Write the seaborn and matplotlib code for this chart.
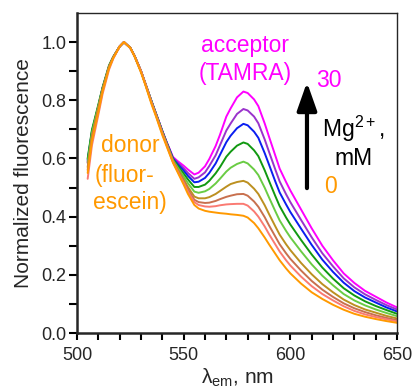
import numpy as np
import pandas as pd
import matplotlib
matplotlib.use("Agg")
import matplotlib.pyplot as plt
import seaborn as sns

# emission wavelength (nm)
wl = [505, 507, 510, 512, 515, 517, 520, 522, 525, 527, 530, 532, 535, 537, 540,
      542, 545, 547, 550, 552, 555, 557, 560, 562, 565, 567, 570, 572, 575, 578,
      580, 583, 585, 588, 590, 593, 595, 598, 600, 605, 610, 615, 620, 625, 630,
      635, 640, 645, 650]

# normalized fluorescence, one list per Mg2+ level (0 mM -> 30 mM)
mg_0 = [.55, .66, .76, .83, .91, .945, .985, 1.0, .98, .95, .895, .853, .785, .745,
        .68, .642, .585, .555, .51, .478, .44, .428, .42, .417, .414, .412, .41,
        .408, .406, .403, .397, .378, .36, .328, .305, .272, .25, .222, .205, .17,
        .14, .117, .097, .08, .066, .056, .048, .041, .035]
mg_1 = [.53, .645, .75, .822, .905, .943, .985, 1.0, .98, .951, .9, .857, .79, .748,
        .685, .646, .587, .558, .516, .486, .45, .44, .435, .434, .436, .439, .442,
        .443, .444, .444, .438, .418, .40, .366, .34, .304, .28, .25, .232, .194,
        .161, .134, .112, .092, .076, .064, .055, .047, .04]
mg_2 = [.56, .67, .77, .835, .915, .948, .985, 1.0, .98, .952, .9, .857, .79, .75,
        .687, .648, .589, .561, .521, .493, .458, .45, .447, .448, .454, .46, .468,
        .472, .477, .478, .472, .452, .434, .398, .37, .331, .305, .274, .255, .215,
        .179, .149, .124, .102, .085, .072, .061, .052, .044]
mg_3 = [.57, .677, .775, .838, .915, .948, .985, 1.0, .98, .952, .9, .858, .792, .751,
        .689, .65, .591, .565, .528, .502, .469, .463, .463, .467, .478, .488, .503,
        .512, .519, .523, .517, .496, .478, .439, .409, .366, .338, .305, .285, .241,
        .202, .168, .14, .115, .096, .081, .07, .059, .05]
mg_4 = [.585, .688, .78, .84, .915, .948, .985, 1.0, .98, .952, .9, .858, .793, .752,
        .69, .652, .594, .571, .538, .515, .486, .482, .487, .495, .514, .53, .555,
        .568, .581, .589, .583, .562, .543, .499, .466, .418, .387, .351, .329, .281,
        .236, .197, .164, .134, .112, .095, .081, .069, .058]
mg_5 = [.60, .698, .785, .845, .92, .95, .985, 1.0, .98, .952, .9, .858, .795, .754,
        .693, .654, .597, .577, .548, .528, .502, .502, .51, .523, .549, .57, .606,
        .623, .644, .655, .65, .628, .608, .559, .523, .47, .436, .397, .373, .32,
        .27, .225, .187, .154, .129, .109, .093, .079, .066]
mg_6 = [.595, .693, .78, .842, .915, .948, .985, 1.0, .98, .952, .9, .858, .795, .754,
        .693, .655, .60, .582, .558, .54, .518, .52, .533, .55, .583, .612, .656,
        .678, .704, .719, .714, .692, .671, .618, .579, .52, .483, .442, .416, .359,
        .303, .252, .21, .173, .144, .122, .105, .088, .074]
mg_7 = [.59, .69, .78, .842, .915, .948, .985, 1.0, .98, .952, .9, .858, .795, .755,
        .694, .656, .602, .587, .566, .55, .53, .535, .552, .574, .611, .645, .696,
        .72, .753, .77, .765, .744, .721, .665, .623, .561, .521, .477, .45, .389,
        .329, .274, .229, .188, .157, .133, .114, .096, .081]
mg_30 = [.585, .685, .775, .84, .915, .948, .985, 1.0, .98, .952, .9, .858, .795, .755,
         .695, .657, .605, .592, .575, .562, .545, .551, .573, .598, .643, .681, .744,
         .772, .81, .83, .825, .803, .78, .72, .675, .609, .565, .519, .49, .425,
         .36, .30, .25, .205, .172, .145, .125, .105, .088]

levels = ["0", "l1", "l2", "l3", "l4", "l5", "l6", "l7", "30"]
series = [mg_0, mg_1, mg_2, mg_3, mg_4, mg_5, mg_6, mg_7, mg_30]
colors = ["#FF9900", "#FA7A72", "#C8704E", "#BC9020", "#6ACC44",
          "#119911", "#0A1EF0", "#9A33CC", "#FF00FF"]

df = pd.concat([pd.DataFrame({"wl": wl, "fl": s, "mg": lv})
                for lv, s in zip(levels, series)], ignore_index=True)

sns.set_style("ticks")
plt.rcParams["font.family"] = ["Liberation Sans", "DejaVu Sans"]
plt.rcParams["mathtext.fontset"] = "custom"
plt.rcParams["mathtext.rm"] = "Liberation Sans"
plt.rcParams["mathtext.it"] = "Liberation Sans:italic"

fig = plt.figure(figsize=(4.12, 3.92), dpi=100)
ax = fig.add_axes([77 / 412, 59 / 392, 320 / 412, 320 / 392])

# draw high Mg first so the 0 mM curve ends up on top
sns.lineplot(data=df, x="wl", y="fl", hue="mg", hue_order=levels[::-1],
             palette=dict(zip(levels, colors)), lw=1.4, legend=False, ax=ax)

ax.set_xlim(500, 650)
ax.set_ylim(0, 1.1)
ax.set_xticks([500, 550, 600, 650])
ax.set_xticks(np.arange(500, 651, 10), minor=True)
ax.set_yticks([0, 0.2, 0.4, 0.6, 0.8, 1.0])
ax.set_yticks(np.arange(0, 1.05, 0.1), minor=True)
ax.set_yticklabels(["0.0", "0.2", "0.4", "0.6", "0.8", "1.0"])
ax.tick_params(axis="both", which="both", direction="out", width=1.5,
               color="black", labelsize=13)
ax.tick_params(axis="x", which="both", length=5, pad=5)
ax.tick_params(axis="y", which="both", length=6, pad=1.5)

for side in ["left", "bottom"]:
    ax.spines[side].set_linewidth(1.8)
for side in ["top", "right"]:
    ax.spines[side].set_linewidth(1.0)

ax.set_ylabel("Normalized fluorescence", fontsize=15, labelpad=6)
ax.set_xlabel(r"λ$_{\mathrm{em}}$, nm", fontsize=15, labelpad=2)

# annotations
ax.text(578.7, 0.99, "acceptor", color="#FF00FF", fontsize=16.5,
        ha="center", va="center")
ax.text(578.7, 0.893, "(TAMRA)", color="#FF00FF", fontsize=16.5,
        ha="center", va="center")
ax.text(524.8, 0.646, "donor", color="#FF9900", fontsize=16.5,
        ha="center", va="center")
ax.text(522.5, 0.543, "(fluor-", color="#FF9900", fontsize=16.5,
        ha="center", va="center")
ax.text(524.8, 0.447, "escein)", color="#FF9900", fontsize=16.5,
        ha="center", va="center")
ax.text(618.1, 0.869, "30", color="#FF00FF", fontsize=16.5,
        ha="center", va="center")
ax.text(618.6, 0.502, "0", color="#FF9900", fontsize=16.5,
        ha="center", va="center")
ax.text(629.4, 0.70, r"Mg$^{2+}$,", color="black", fontsize=16.5,
        ha="center", va="center")
ax.text(629.4, 0.601, "mM", color="black", fontsize=16.5,
        ha="center", va="center")
ax.annotate("", xy=(607.8, 0.862), xytext=(607.8, 0.498),
            arrowprops=dict(arrowstyle="-|>,head_width=0.3,head_length=0.85",
                            lw=3, color="black", mutation_scale=20,
                            shrinkA=0, shrinkB=0))

fig.savefig("out.png", dpi=100)
